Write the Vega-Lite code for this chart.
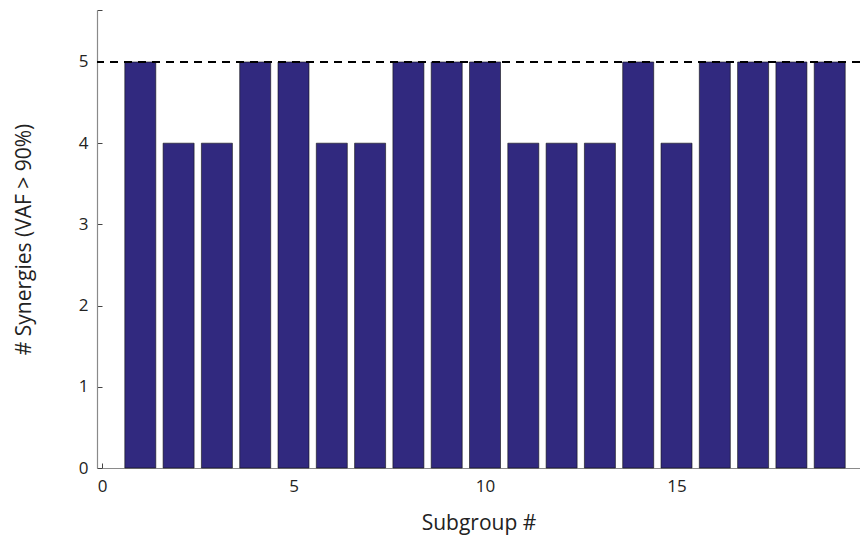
{
  "$schema": "https://vega.github.io/schema/vega-lite/v6.json",
  "width": 763,
  "height": 458,
  "autosize": {"type": "none"},
  "padding": {"left": 97, "top": 10, "right": 0, "bottom": 70},
  "background": "white",
  "config": {
    "view": {"stroke": null},
    "font": "Open Sans",
    "axis": {
      "domainColor": "#8a8a8a",
      "domainWidth": 1.2,
      "tickColor": "#444444",
      "tickWidth": 1,
      "grid": false,
      "labelColor": "#222222",
      "labelFont": "Open Sans",
      "labelFontSize": 17,
      "titleFont": "Open Sans",
      "titleFontSize": 21,
      "titleFontWeight": "normal",
      "titleColor": "#222222"
    }
  },
  "data": {
    "values": [
      {"subgroup": 1, "synergies": 5},
      {"subgroup": 2, "synergies": 4},
      {"subgroup": 3, "synergies": 4},
      {"subgroup": 4, "synergies": 5},
      {"subgroup": 5, "synergies": 5},
      {"subgroup": 6, "synergies": 4},
      {"subgroup": 7, "synergies": 4},
      {"subgroup": 8, "synergies": 5},
      {"subgroup": 9, "synergies": 5},
      {"subgroup": 10, "synergies": 5},
      {"subgroup": 11, "synergies": 4},
      {"subgroup": 12, "synergies": 4},
      {"subgroup": 13, "synergies": 4},
      {"subgroup": 14, "synergies": 5},
      {"subgroup": 15, "synergies": 4},
      {"subgroup": 16, "synergies": 5},
      {"subgroup": 17, "synergies": 5},
      {"subgroup": 18, "synergies": 5},
      {"subgroup": 19, "synergies": 5}
    ]
  },
  "layer": [
    {
      "mark": {"type": "bar", "size": 31, "fill": "#31297f", "stroke": "#111111", "strokeWidth": 0.6},
      "encoding": {
        "x": {
          "field": "subgroup",
          "type": "quantitative",
          "scale": {"domain": [0, 19.66], "nice": false, "zero": false},
          "axis": {
            "title": "Subgroup #",
            "values": [0, 5, 10, 15],
            "labelExpr": "format(datum.value, 'd')",
            "labelOverlap": false,
            "tickSize": -5,
            "labelPadding": 15,
            "titlePadding": 18,
            "labelFlush": false
          }
        },
        "y": {
          "field": "synergies",
          "type": "quantitative",
          "scale": {"domain": [0, 5.64], "nice": false},
          "axis": {
            "title": "# Synergies (VAF > 90%)",
            "values": [0, 1, 2, 3, 4, 5, 5.64],
            "labelExpr": "datum.value > 5.5 ? '' : format(datum.value, 'd')",
            "labelOverlap": false,
            "tickSize": -5,
            "labelPadding": 14,
            "titlePadding": 44,
            "labelFlush": false
          }
        }
      }
    },
    {
      "mark": {"type": "rule", "color": "#000000", "strokeWidth": 1.6, "strokeDash": [8, 6]},
      "encoding": {"y": {"datum": 5}}
    }
  ]
}
